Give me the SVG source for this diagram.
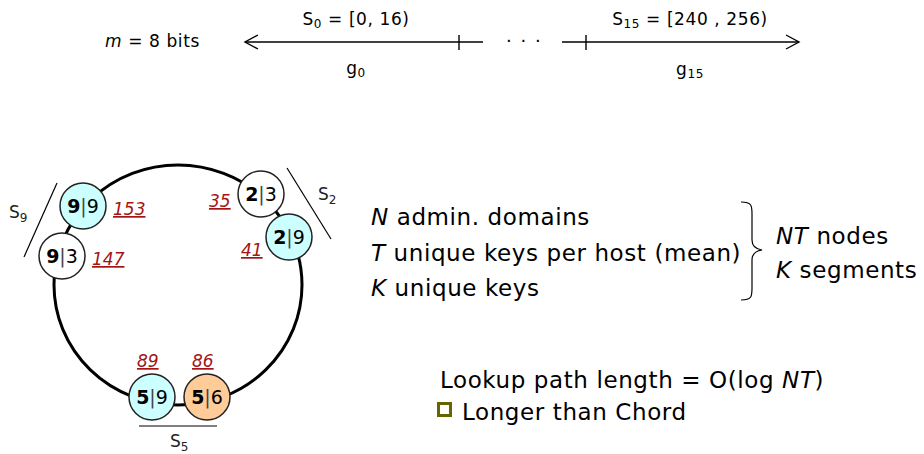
<svg xmlns="http://www.w3.org/2000/svg" width="924" height="454" viewBox="0 0 924 454">
<style>
  .t { font-family: "DejaVu Sans", Verdana, sans-serif; fill: #000; }
  .top { font-size: 17px; letter-spacing: 0.6px; }
  .big { font-size: 23px; letter-spacing: 0.6px; }
  .nd { font-size: 19px; text-anchor: middle; }
  .nd .b { font-weight: bold; }
  .id { font-family: "DejaVu Sans", Verdana, sans-serif; font-size: 17px; font-style: italic; fill: #a31515; text-decoration: underline; }
  .seg { font-family: "DejaVu Sans", Verdana, sans-serif; font-size: 17px; fill: #222; }
  .ln { stroke: #000; stroke-width: 1.4; fill: none; }
  .node { stroke: #222; stroke-width: 1.5; }
  .cyan { fill: #ccffff; }
  .white { fill: #ffffff; }
  .orange { fill: #ffcc99; }
</style>
<rect width="924" height="454" fill="#fff"/>

<!-- top scale -->
<g id="scale">
  <text class="t top" x="105" y="47"><tspan font-style="italic">m</tspan> = 8 bits</text>
  <line class="ln" x1="245" y1="42" x2="483" y2="42"/>
  <polyline class="ln" points="258,35 245,42 258,49"/>
  <line class="ln" x1="459" y1="35" x2="459" y2="50"/>
  <text class="t" x="506" y="47" font-size="18" letter-spacing="1.5">· · ·</text>
  <line class="ln" x1="562" y1="42" x2="799" y2="42"/>
  <polyline class="ln" points="786,35 799,42 786,49"/>
  <line class="ln" x1="586" y1="35" x2="586" y2="50"/>
  <text class="t top" x="356" y="25" text-anchor="middle">S<tspan font-size="12" dy="3">0</tspan><tspan dy="-3"> = [0, 16)</tspan></text>
  <text class="t top" x="356" y="74" text-anchor="middle">g<tspan font-size="12" dy="3">0</tspan></text>
  <text class="t top" x="690" y="25" text-anchor="middle">S<tspan font-size="12" dy="3">15</tspan><tspan dy="-3"> = [240 , 256)</tspan></text>
  <text class="t top" x="690" y="75" text-anchor="middle">g<tspan font-size="12" dy="3">15</tspan></text>
</g>

<!-- ring and connectors -->
<g id="connectors">
  <ellipse cx="178" cy="285" rx="124" ry="120" fill="none" stroke="#000" stroke-width="3"/>
  <line x1="57" y1="183" x2="24" y2="257" stroke="#000" stroke-width="1.2"/>
  <line x1="287" y1="168" x2="331" y2="239" stroke="#000" stroke-width="1.2"/>
  <line x1="139" y1="426" x2="217" y2="426" stroke="#000" stroke-width="1.2"/>
</g>

<g id="n99">
  <circle class="node cyan" cx="83" cy="206" r="23"/>
  <text class="t nd" x="83" y="213"><tspan class="b">9</tspan><tspan fill="#444">|</tspan>9</text>
  <text class="id" x="113" y="215">153</text>
</g>
<g id="n93">
  <circle class="node white" cx="62" cy="256" r="23"/>
  <text class="t nd" x="62" y="263"><tspan class="b">9</tspan><tspan fill="#444">|</tspan>3</text>
  <text class="id" x="92" y="265">147</text>
</g>
<g id="n23">
  <circle class="node white" cx="261" cy="194" r="23"/>
  <text class="t nd" x="261" y="201"><tspan class="b">2</tspan><tspan fill="#444">|</tspan>3</text>
  <text class="id" x="209" y="207">35</text>
</g>
<g id="n29">
  <circle class="node cyan" cx="289" cy="237" r="23"/>
  <text class="t nd" x="289" y="244"><tspan class="b">2</tspan><tspan fill="#444">|</tspan>9</text>
  <text class="id" x="241" y="256">41</text>
</g>
<g id="n59">
  <circle class="node cyan" cx="152" cy="397" r="23"/>
  <text class="t nd" x="152" y="404"><tspan class="b">5</tspan><tspan fill="#444">|</tspan>9</text>
  <text class="id" x="137" y="367">89</text>
</g>
<g id="n56">
  <circle class="node orange" cx="207" cy="397" r="23"/>
  <text class="t nd" x="207" y="404"><tspan class="b">5</tspan><tspan fill="#444">|</tspan>6</text>
  <text class="id" x="192" y="367">86</text>
</g>

<g id="segments">
  <text class="seg" x="9" y="218">S<tspan font-size="12" dy="4">9</tspan></text>
  <text class="seg" x="318" y="200">S<tspan font-size="12" dy="4">2</tspan></text>
  <text class="seg" x="170" y="447">S<tspan font-size="12" dy="4">5</tspan></text>
</g>

<!-- right text -->
<g id="params">
  <text class="t big" x="371" y="225"><tspan font-style="italic">N</tspan> admin. domains</text>
  <text class="t big" x="371" y="261"><tspan font-style="italic">T</tspan> unique keys per host (mean)</text>
  <text class="t big" x="371" y="296"><tspan font-style="italic">K</tspan> unique keys</text>
  <path d="M741,202 C752,202 752,206 752,214 L752,240 C752,246 755,249 762,250 C755,251 752,254 752,260 L752,288 C752,296 752,300 741,300" fill="none" stroke="#000" stroke-width="1.2"/>
  <text class="t big" x="776" y="244"><tspan font-style="italic">NT</tspan> nodes</text>
  <text class="t big" x="776" y="278"><tspan font-style="italic">K</tspan> segments</text>
</g>

<g id="lookup">
  <text class="t big" x="440" y="388">Lookup path length = O(log <tspan font-style="italic">NT</tspan>)</text>
  <rect x="438.5" y="403.5" width="12" height="12" fill="none" stroke="#666600" stroke-width="3"/>
  <text class="t big" x="462" y="420">Longer than Chord</text>
</g>
</svg>
